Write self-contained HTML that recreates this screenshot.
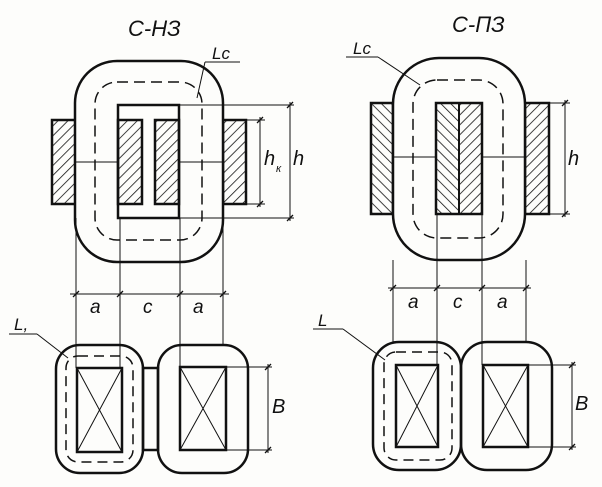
<!DOCTYPE html>
<html><head><meta charset="utf-8"><style>
html,body{margin:0;padding:0;background:#fdfdfb;}
svg{display:block;}
text{font-family:"Liberation Sans","DejaVu Sans",sans-serif;font-style:italic;fill:#111;}
</style></head><body>
<svg width="602" height="487" viewBox="0 0 602 487" xmlns="http://www.w3.org/2000/svg">
<defs>
<pattern id="hf" width="7" height="7" patternUnits="userSpaceOnUse" patternTransform="rotate(45)">
<line x1="0" y1="0" x2="0" y2="7" stroke="#111" stroke-width="1.6"/></pattern>
<pattern id="hb" width="7" height="7" patternUnits="userSpaceOnUse" patternTransform="rotate(-45)">
<line x1="0" y1="0" x2="0" y2="7" stroke="#111" stroke-width="1.6"/></pattern>
</defs>
<g fill="none" stroke="#111">
<!-- LEFT TOP -->
<rect x="52" y="120" width="24" height="84" fill="url(#hf)" stroke-width="2.5"/>
<rect x="223" y="120" width="23" height="84" fill="url(#hf)" stroke-width="2.5"/>
<rect x="75" y="61" width="148" height="201" rx="42" stroke-width="2.5" fill="#fdfdfb"/>
<rect x="118" y="105" width="61" height="113" stroke-width="2.5"/>
<rect x="118" y="120" width="24" height="84" fill="url(#hf)" stroke-width="2.5"/>
<rect x="155" y="120" width="24" height="84" fill="url(#hf)" stroke-width="2.5"/>
<rect x="95" y="82" width="107" height="158" rx="22" stroke-width="1.5" stroke-dasharray="11,6"/>
<g stroke-width="1">
<line x1="76" y1="162" x2="118" y2="162"/><line x1="179" y1="162" x2="223" y2="162"/>
<line x1="179" y1="105" x2="294" y2="105"/><line x1="179" y1="218" x2="294" y2="218"/>
<line x1="246" y1="120" x2="265" y2="120"/><line x1="246" y1="204" x2="265" y2="204"/>
<line x1="290" y1="102" x2="290" y2="221"/><line x1="260" y1="117" x2="260" y2="207"/>
<line x1="76" y1="218" x2="76" y2="368"/><line x1="120" y1="218" x2="120" y2="368"/>
<line x1="180" y1="218" x2="180" y2="367"/><line x1="223" y1="218" x2="223" y2="345"/>
<line x1="70" y1="294" x2="229" y2="294"/>
<line x1="205" y1="62" x2="240" y2="62"/><line x1="205" y1="62" x2="197" y2="98"/>
<line x1="9" y1="334" x2="37" y2="334"/><line x1="37" y1="334" x2="68" y2="358"/>
</g>
<g stroke-width="1.3">
<path d="M73 297l6-6M117 297l6-6M177 297l6-6M220 297l6-6M287 108l6-6M287 221l6-6M257 123l6-6M257 207l6-6M265 370l6-6M265 453l6-6"/>
<path d="M390 291l6-6M434 291l6-6M479 291l6-6M523 291l6-6M562 106l6-6M562 217l6-6M569 368l6-6M569 450l6-6"/>
</g>
<!-- LEFT BOTTOM -->
<rect x="143" y="368" width="15" height="82" stroke-width="2.5"/>
<rect x="56" y="345" width="87" height="128" rx="24" stroke-width="2.5"/>
<rect x="158" y="345" width="90" height="128" rx="24" stroke-width="2.5"/>
<rect x="77" y="368" width="45" height="84" stroke-width="2.5"/>
<rect x="180" y="367" width="46" height="83" stroke-width="2.5"/>
<g stroke-width="1">
<path d="M77 368L122 452M122 368L77 452M180 367L226 450M226 367L180 450"/>
<line x1="226" y1="367" x2="272" y2="367"/><line x1="226" y1="450" x2="272" y2="450"/>
<line x1="268" y1="364" x2="268" y2="453"/>
</g>
<rect x="66" y="356" width="67" height="106" rx="12" stroke-width="1.5" stroke-dasharray="10,6"/>
<!-- RIGHT TOP -->
<rect x="371" y="103" width="22" height="111" fill="url(#hb)" stroke-width="2.5"/>
<rect x="525" y="103" width="24" height="111" fill="url(#hf)" stroke-width="2.5"/>
<rect x="393" y="58" width="132" height="202" rx="46" stroke-width="2.5" fill="#fdfdfb"/>
<rect x="436" y="103" width="23" height="111" fill="url(#hb)" stroke-width="0"/>
<rect x="459" y="103" width="23" height="111" fill="url(#hf)" stroke-width="0"/>
<rect x="436" y="103" width="46" height="111" stroke-width="2.5"/>
<line x1="459" y1="103" x2="459" y2="214" stroke-width="2"/>
<rect x="413" y="80" width="90" height="158" rx="24" stroke-width="1.5" stroke-dasharray="11,6"/>
<g stroke-width="1">
<line x1="393" y1="157" x2="436" y2="157"/><line x1="482" y1="157" x2="525" y2="157"/>
<line x1="549" y1="103" x2="570" y2="103"/><line x1="549" y1="214" x2="570" y2="214"/>
<line x1="565" y1="100" x2="565" y2="217"/>
<line x1="393" y1="260" x2="393" y2="342"/><line x1="437" y1="214" x2="437" y2="365"/>
<line x1="482" y1="214" x2="482" y2="365"/><line x1="526" y1="260" x2="526" y2="342"/>
<line x1="388" y1="288" x2="531" y2="288"/>
<line x1="346" y1="57" x2="378" y2="57"/><line x1="378" y1="57" x2="420" y2="85"/>
<line x1="313" y1="329" x2="343" y2="329"/><line x1="343" y1="329" x2="385" y2="360"/>
</g>
<!-- RIGHT BOTTOM -->
<rect x="373" y="342" width="88" height="128" rx="26" stroke-width="2.5"/>
<rect x="461" y="342" width="91" height="128" rx="26" stroke-width="2.5"/>
<rect x="396" y="365" width="42" height="82" stroke-width="2.5"/>
<rect x="483" y="365" width="45" height="82" stroke-width="2.5"/>
<g stroke-width="1">
<path d="M396 365L438 447M438 365L396 447M483 365L528 447M528 365L483 447"/>
<line x1="528" y1="365" x2="576" y2="365"/><line x1="528" y1="447" x2="576" y2="447"/>
<line x1="572" y1="362" x2="572" y2="450"/>
</g>
<rect x="384" y="352" width="68" height="108" rx="12" stroke-width="1.5" stroke-dasharray="10,6"/>
</g>
<text x="128" y="36" font-size="22">С-НЗ</text>
<text x="452" y="32" font-size="22">С-ПЗ</text>
<text x="212" y="59" font-size="17">Lc</text>
<text x="353" y="54" font-size="17">Lc</text>
<text x="14" y="330" font-size="17">L,</text>
<text x="318" y="326" font-size="17">L</text>
<text x="264" y="165" font-size="20">h</text><text x="276" y="172" font-size="11">к</text>
<text x="293" y="165" font-size="20">h</text>
<text x="568" y="165" font-size="20">h</text>
<text x="90" y="313" font-size="19">a</text>
<text x="143" y="313" font-size="19">c</text>
<text x="193" y="313" font-size="19">a</text>
<text x="408" y="308" font-size="19">a</text>
<text x="453" y="308" font-size="19">c</text>
<text x="497" y="308" font-size="19">a</text>
<text x="272" y="413" font-size="20">B</text>
<text x="575" y="410" font-size="20">B</text>
</svg>
</body></html>
